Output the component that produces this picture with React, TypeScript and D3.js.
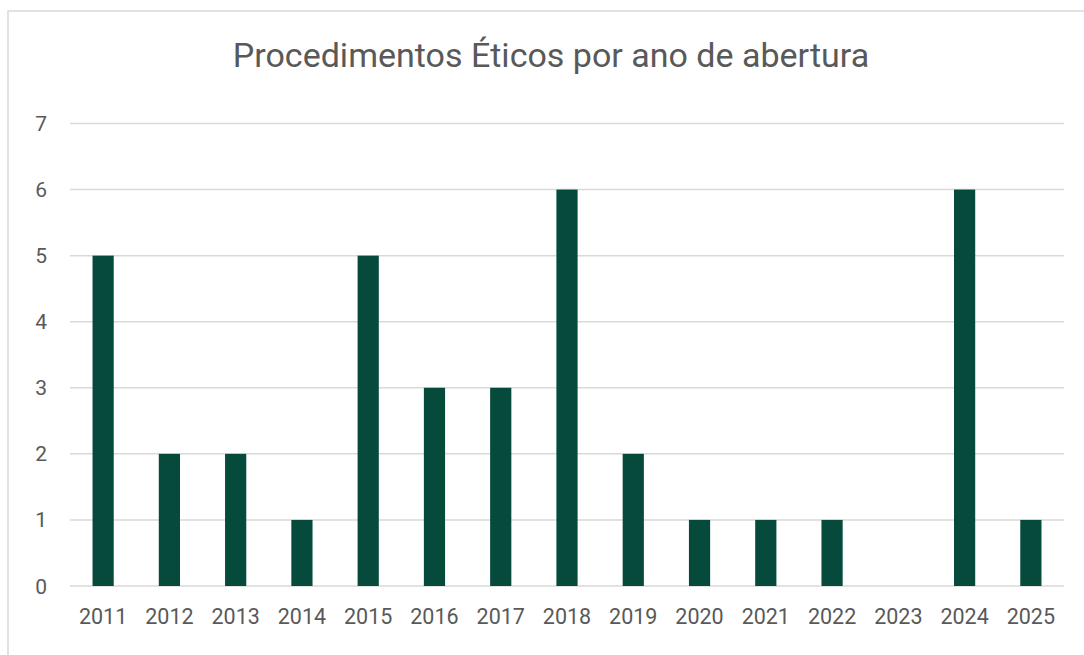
import React from 'react';
import * as d3 from 'd3';

const years = ['2011', '2012', '2013', '2014', '2015', '2016', '2017', '2018', '2019', '2020', '2021', '2022', '2023', '2024', '2025'];
const counts = [5, 2, 2, 1, 5, 3, 3, 6, 2, 1, 1, 1, 0, 6, 1];
const yTicks = [0, 1, 2, 3, 4, 5, 6, 7];
const title = 'Procedimentos Éticos por ano de abertura';

const W = 1084;
const H = 655;
const margin = { top: 123.5, right: 20, bottom: 69, left: 70 };
const font = 'Roboto, "Noto Sans", sans-serif';
const textColor = '#595959';
const barColor = '#064A3C';

export default function App() {
	const x = d3
		.scaleBand()
		.domain(years)
		.range([margin.left, W - margin.right]);
	const y = d3
		.scaleLinear()
		.domain([0, 7])
		.range([H - margin.bottom, margin.top]);
	const barW = x.bandwidth() * 0.32;

	return (
		<svg
			width={W}
			height={H}
			style={{ position: 'fixed', left: 0, top: 0, background: '#fff' }}
		>
			{/* chart frame */}
			<rect x={8} y={11} width={W + 20} height={H + 20} fill='#fff' stroke='#d9d9d9' strokeWidth={1.5} />

			{/* title */}
			<text x={551} y={67} textAnchor='middle' fontFamily={font} fontSize={34} fill={textColor}>
				{title}
			</text>

			{/* gridlines + y labels */}
			{yTicks.map((t) => (
				<g key={t}>
					<line
						x1={margin.left}
						x2={W - margin.right}
						y1={y(t)}
						y2={y(t)}
						stroke='#d9d9d9'
						strokeWidth={1.5}
					/>
					<text
						x={47}
						y={y(t) + 7.5}
						textAnchor='end'
						fontFamily={font}
						fontSize={21}
						fill={textColor}
					>
						{t}
					</text>
				</g>
			))}

			{/* bars */}
			{years.map((yr, i) => (
				<rect
					key={yr}
					x={x(yr) + x.bandwidth() / 2 - barW / 2}
					y={y(counts[i])}
					width={barW}
					height={y(0) - y(counts[i])}
					fill={barColor}
				/>
			))}

			{/* x labels */}
			{years.map((yr) => (
				<text
					key={yr + '-label'}
					x={x(yr) + x.bandwidth() / 2}
					y={624}
					textAnchor='middle'
					fontFamily={font}
					fontSize={21.5}
					fill={textColor}
				>
					{yr}
				</text>
			))}
		</svg>
	);
}
